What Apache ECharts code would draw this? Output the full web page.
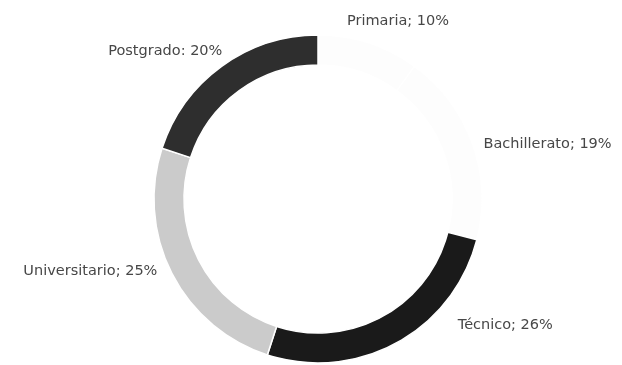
<!DOCTYPE html>
<html><head><meta charset="utf-8">
<script src="https://cdn.jsdelivr.net/npm/echarts@6/dist/echarts.min.js"></script>
<style>html,body{margin:0;padding:0;background:#fff}#c{width:622px;height:365px}</style>
</head><body><div id="c"></div>
<script>
const categories = ['Primaria', 'Bachillerato', 'Técnico', 'Universitario', 'Postgrado'];
const values = [10, 19, 26, 25, 20];
const separators = ['; ', '; ', '; ', '; ', ': '];
const colors = ['#fdfdfd', '#fdfdfd', '#1a1a1a', '#cbcbcb', '#2e2e2e'];
const labelShift = [[-35, -8], [-11, 6], [45, -30], [7, -9], [18, -4]];

const chart = echarts.init(document.getElementById('c'));
chart.setOption({
  animation: false,
  series: [{
    type: 'pie',
    center: [318, 199],
    radius: [134, 164],
    startAngle: 90,
    clockwise: true,
    avoidLabelOverlap: false,
    itemStyle: { borderColor: '#fff', borderWidth: 1.5 },
    label: {
      show: true, position: 'outside', color: '#474747',
      fontFamily: 'DejaVu Sans', fontSize: 14.5,
      formatter: p => p.name + separators[p.dataIndex] + p.percent.toFixed(0) + '%'
    },
    labelLine: { show: false, length: 14, length2: 4 },
    labelLayout: p => ({ dx: labelShift[p.dataIndex][0], dy: labelShift[p.dataIndex][1] }),
    data: categories.map((c, i) => ({ name: c, value: values[i], itemStyle: { color: colors[i] } }))
  }]
});
</script></body></html>
